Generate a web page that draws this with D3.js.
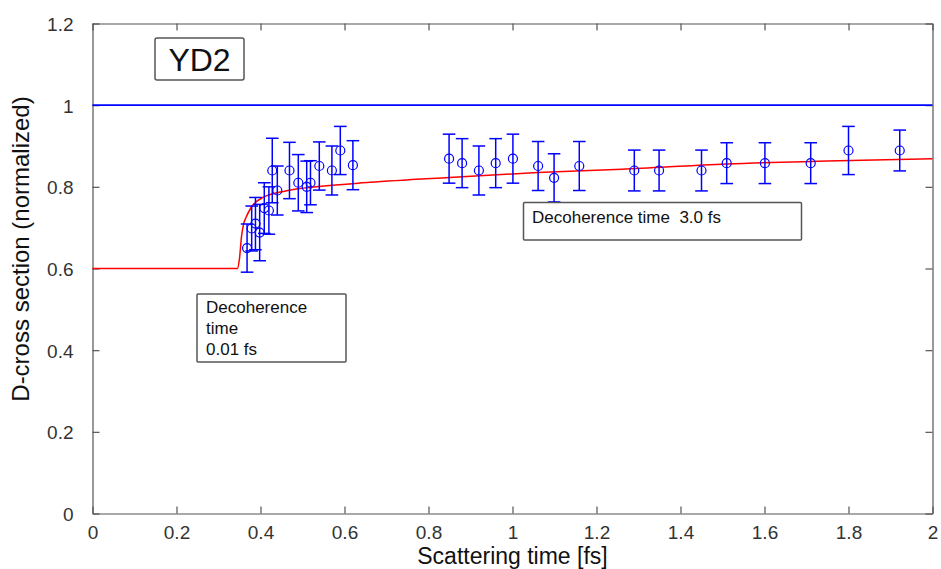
<!DOCTYPE html>
<html>
<head>
<meta charset="utf-8">
<script src="https://cdn.jsdelivr.net/npm/d3@7"></script>
<style>
  body { margin: 0; background: #fff; }
  svg { display: block; font-family: 'Liberation Sans', Arial, sans-serif; }
</style>
</head>
<body>
<div id="svg-container"></div>
<script>
// measured points (scattering time in fs, normalized D-cross section, error)
const scatterTime = [0.368, 0.379, 0.388, 0.398, 0.409, 0.420, 0.428, 0.440,
  0.469, 0.490, 0.510, 0.519, 0.540, 0.570, 0.590, 0.620,
  0.849, 0.880, 0.920, 0.960, 1.001, 1.061, 1.099, 1.159,
  1.290, 1.349, 1.450, 1.510, 1.601, 1.710, 1.800, 1.922];
const dCross = [0.650, 0.698, 0.710, 0.688, 0.748, 0.742, 0.840, 0.791,
  0.840, 0.810, 0.800, 0.810, 0.851, 0.840, 0.889, 0.853,
  0.869, 0.858, 0.840, 0.858, 0.869, 0.851, 0.822, 0.851,
  0.840, 0.840, 0.840, 0.858, 0.858, 0.858, 0.889, 0.889];
const dCrossErr = [0.059, 0.055, 0.064, 0.069, 0.062, 0.058, 0.079, 0.060,
  0.069, 0.069, 0.063, 0.054, 0.059, 0.060, 0.059, 0.060,
  0.060, 0.060, 0.060, 0.060, 0.060, 0.060, 0.059, 0.060,
  0.050, 0.050, 0.050, 0.050, 0.050, 0.050, 0.059, 0.050];

// model curve (red)
const modelTime = [0, 0.345, 0.350, 0.355, 0.360, 0.366, 0.378, 0.406, 0.460,
  0.540, 0.660, 0.850, 1.060, 1.260, 1.510, 1.750, 2.0];
const modelValue = [0.6, 0.6, 0.625, 0.68, 0.71, 0.726, 0.750, 0.774, 0.790,
  0.801, 0.811, 0.823, 0.835, 0.843, 0.856, 0.863, 0.869];

// reference level (blue)
const refTime = [0, 2];
const refValue = [1, 1];

const xTicks = [0, 0.2, 0.4, 0.6, 0.8, 1, 1.2, 1.4, 1.6, 1.8, 2];
const yTicks = [0, 0.2, 0.4, 0.6, 0.8, 1, 1.2];

const W = 941;
const H = 569;
const padding = { top: 23.5, right: 8.5, bottom: 55.5, left: 92.5 };
const w = W - padding.left - padding.right;
const h = H - padding.top - padding.bottom;

const svg = d3.select('#svg-container').
append('svg').
attr('width', W).
attr('height', H);

const xScale = d3.scaleLinear().domain([0, 2]).range([0, w]);
const yScale = d3.scaleLinear().domain([0, 1.2]).range([h, 0]);

const plot = svg.append('g').
attr('transform', 'translate(' + padding.left + ',' + padding.top + ')');

const axisColor = '#555';
const tickFmt = d => d3.format('')(+d.toFixed(1));

// axes, matlab style with inward ticks on all four sides
const xAxis = plot.append('g').
attr('transform', 'translate(0,' + h + ')').
call(d3.axisBottom(xScale).tickValues(xTicks).tickSizeInner(-7).tickSizeOuter(0).tickPadding(12).tickFormat(tickFmt));
const yAxis = plot.append('g').
call(d3.axisLeft(yScale).tickValues(yTicks).tickSizeInner(-7).tickSizeOuter(0).tickPadding(19).tickFormat(tickFmt));
const xTop = plot.append('g').
call(d3.axisTop(xScale).tickValues(xTicks).tickSizeInner(-7).tickSizeOuter(0).tickFormat(''));
const yRight = plot.append('g').
attr('transform', 'translate(' + w + ',0)').
call(d3.axisRight(yScale).tickValues(yTicks).tickSizeInner(-7).tickSizeOuter(0).tickFormat(''));

[xAxis, yAxis, xTop, yRight].forEach(function (a) {
  a.selectAll('path, line').attr('stroke', axisColor).attr('stroke-width', 1.2);
  a.selectAll('text').
  attr('fill', '#333').
  style('font-size', '19px').
  style('font-family', "'Liberation Sans', Arial, sans-serif");
});
yAxis.selectAll('text').attr('dy', '0.36em');

// reference line
plot.append('path').
datum(refTime.map((t, i) => [t, refValue[i]])).
attr('fill', 'none').
attr('stroke', '#0000ff').
attr('stroke-width', 1.6).
attr('d', d3.line().x(d => xScale(d[0])).y(d => yScale(d[1])));

// model curve
plot.append('path').
datum(modelTime.map((t, i) => [t, modelValue[i]])).
attr('fill', 'none').
attr('stroke', '#ff0000').
attr('stroke-width', 1.5).
attr('d', d3.line().curve(d3.curveMonotoneX).x(d => xScale(d[0])).y(d => yScale(d[1])));

// error bars + circles
const points = scatterTime.map((t, i) => ({ t: t, v: dCross[i], e: dCrossErr[i] }));
const capW = 6.3;
const bars = plot.append('g').
attr('stroke', '#0000ff').
attr('stroke-width', 1.5).
attr('fill', 'none').
selectAll('g').
data(points).
enter().
append('g');

bars.append('line').
attr('x1', d => xScale(d.t)).attr('x2', d => xScale(d.t)).
attr('y1', d => yScale(d.v - d.e)).attr('y2', d => yScale(d.v + d.e));
bars.append('line').
attr('x1', d => xScale(d.t) - capW).attr('x2', d => xScale(d.t) + capW).
attr('y1', d => yScale(d.v + d.e)).attr('y2', d => yScale(d.v + d.e));
bars.append('line').
attr('x1', d => xScale(d.t) - capW).attr('x2', d => xScale(d.t) + capW).
attr('y1', d => yScale(d.v - d.e)).attr('y2', d => yScale(d.v - d.e));
bars.append('circle').
attr('cx', d => xScale(d.t)).
attr('cy', d => yScale(d.v)).
attr('r', 4.5).
attr('stroke-width', 1.2);

// annotation boxes
function box(x, y, bw, bh, radius) {
  svg.append('rect').
  attr('x', x).attr('y', y).
  attr('width', bw).attr('height', bh).
  attr('rx', radius).
  attr('fill', '#fff').
  attr('stroke', '#555').
  attr('stroke-width', 1.5);
}

box(155, 38, 89, 42, 2);
svg.append('text').
attr('x', 199.5).attr('y', 70.5).
attr('text-anchor', 'middle').
style('font-size', '32px').
attr('fill', '#111').
text('YD2');

box(197, 294, 149, 68, 1);
const noteLines = ['Decoherence', 'time', '0.01 fs'];
svg.append('text').
attr('fill', '#111').
style('font-size', '17px').
selectAll('tspan').
data(noteLines).
enter().
append('tspan').
attr('x', 206).
attr('y', (d, i) => 313 + i * 21).
text(d => d);

box(523.5, 202.5, 278, 37.5, 1);
svg.append('text').
attr('x', 532).attr('y', 222.5).
attr('fill', '#111').
style('font-size', '17px').
style('white-space', 'pre').
attr('xml:space', 'preserve').
text('Decoherence time  3.0 fs');

// axis titles
svg.append('text').
attr('x', padding.left + w / 2).
attr('y', 564).
attr('text-anchor', 'middle').
attr('fill', '#111').
style('font-size', '23px').
text('Scattering time [fs]');

svg.append('text').
attr('transform', 'translate(' + 29 + ',' + 249 + ') rotate(-90)').
attr('text-anchor', 'middle').
attr('fill', '#111').
style('font-size', '24px').
text('D-cross section (normalized)');
</script>
</body>
</html>
